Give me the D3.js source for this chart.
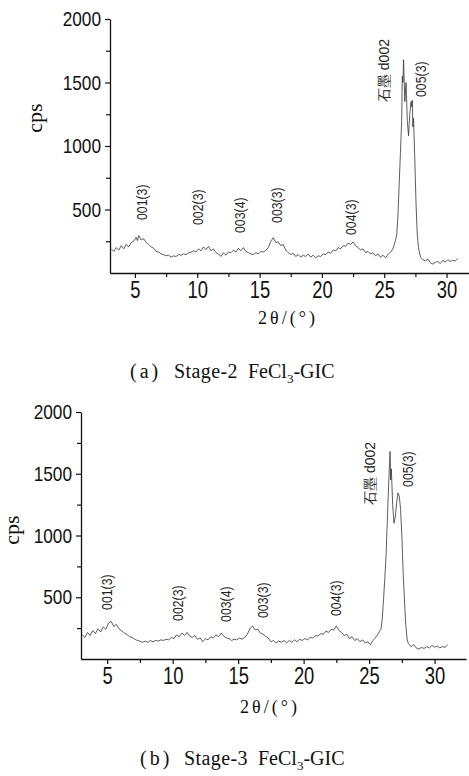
<!DOCTYPE html>
<html>
<head>
<meta charset="utf-8">
<script src="https://cdn.jsdelivr.net/npm/d3@7"></script>
<style>
  body { margin: 0; background: #fff; }
  svg { display: block; }
</style>
</head>
<body>
<script>
// 2theta (deg) vs counts
var stage2 = [
  [3.1,190],[3.3,170],[3.5,200],[3.7,180],[3.9,215],[4.1,190],[4.3,225],[4.5,205],[4.7,240],[4.9,250],
  [5.1,280],[5.2,255],[5.3,295],[5.5,260],[5.7,270],[5.9,240],[6.1,225],[6.3,205],[6.5,195],[6.7,170],
  [6.9,165],[7.1,150],[7.3,145],[7.5,135],[7.7,140],[7.9,125],[8.1,135],[8.3,130],[8.5,145],[8.7,140],
  [8.9,150],[9.1,145],[9.3,160],[9.5,165],[9.7,175],[9.9,165],[10.1,190],[10.3,175],[10.5,205],[10.7,185],
  [10.9,210],[11.1,175],[11.3,190],[11.5,160],[11.7,150],[11.9,130],[12.1,160],[12.3,140],[12.5,165],[12.7,160],
  [12.9,180],[13.1,165],[13.3,195],[13.5,175],[13.7,200],[13.9,170],[14.1,160],[14.3,150],[14.5,145],[14.7,160],
  [14.9,150],[15.1,170],[15.3,165],[15.5,180],[15.7,200],[15.9,250],[16.1,278],[16.3,240],[16.5,245],[16.7,215],
  [16.9,225],[17.1,180],[17.3,160],[17.5,145],[17.7,155],[17.9,130],[18.1,145],[18.3,125],[18.5,140],[18.7,130],
  [18.9,150],[19.1,125],[19.3,140],[19.5,120],[19.7,135],[19.9,130],[20.1,150],[20.3,145],[20.5,165],[20.7,155],
  [20.9,180],[21.1,175],[21.3,200],[21.5,190],[21.7,215],[21.9,210],[22.1,235],[22.3,225],[22.5,245],[22.7,215],
  [22.9,200],[23.1,180],[23.3,190],[23.5,160],[23.7,170],[23.9,150],[24.1,160],[24.3,135],[24.5,150],[24.7,125],
  [24.9,140],[25.1,120],[25.3,145],[25.5,165],[25.7,190],[25.8,225],[25.9,255],[26.0,300],[26.1,450],[26.2,700],
  [26.3,950],[26.4,1200],[26.45,1550],[26.5,1500],[26.55,1680],[26.65,1350],[26.75,1500],[26.85,1200],[26.95,1080],[27.05,1250],
  [27.15,1350],[27.2,1310],[27.25,1360],[27.3,1150],[27.35,1220],[27.45,900],[27.55,550],[27.65,300],[27.75,200],[27.85,150],
  [27.95,120],[28.1,105],[28.3,95],[28.5,110],[28.7,80],[28.9,70],[29.1,85],[29.3,90],[29.5,75],[29.7,100],
  [29.9,85],[30.1,105],[30.3,90],[30.5,100],[30.7,95],[30.9,115]
];
var stage3 = [
  [3.1,195],[3.3,175],[3.5,215],[3.7,190],[3.9,230],[4.1,205],[4.3,245],[4.5,220],[4.7,260],[4.9,240],
  [5.1,290],[5.3,305],[5.5,265],[5.7,280],[5.9,245],[6.1,230],[6.3,210],[6.5,200],[6.7,180],[6.9,175],
  [7.1,160],[7.3,150],[7.5,145],[7.7,135],[7.9,145],[8.1,135],[8.3,150],[8.5,140],[8.7,150],[8.9,145],
  [9.1,155],[9.3,150],[9.5,160],[9.7,155],[9.9,175],[10.1,165],[10.3,195],[10.5,180],[10.7,210],[10.9,190],
  [11.1,215],[11.3,185],[11.5,175],[11.7,190],[11.9,160],[12.1,170],[12.3,140],[12.5,165],[12.7,155],[12.9,180],
  [13.1,170],[13.3,195],[13.5,180],[13.7,210],[13.9,185],[14.1,170],[14.3,165],[14.5,150],[14.7,160],[14.9,155],
  [15.1,170],[15.3,160],[15.5,175],[15.7,200],[15.9,245],[16.1,268],[16.3,235],[16.5,240],[16.7,210],[16.9,200],
  [17.1,185],[17.3,170],[17.5,140],[17.7,150],[17.9,130],[18.1,145],[18.3,135],[18.5,150],[18.7,130],[18.9,150],
  [19.1,135],[19.3,155],[19.5,140],[19.7,160],[19.9,150],[20.1,165],[20.3,155],[20.5,175],[20.7,170],[20.9,190],
  [21.1,185],[21.3,205],[21.5,200],[21.7,225],[21.9,215],[22.1,240],[22.3,235],[22.5,268],[22.7,230],[22.9,215],
  [23.1,190],[23.3,200],[23.5,165],[23.7,180],[23.9,150],[24.1,165],[24.3,140],[24.5,155],[24.7,130],[24.9,140],
  [25.1,115],[25.3,150],[25.5,175],[25.7,205],[25.8,225],[25.9,240],[26.0,320],[26.1,480],[26.2,650],[26.3,850],
  [26.4,1150],[26.5,1430],[26.6,1680],[26.65,1450],[26.7,1540],[26.8,1250],[26.9,1100],[27.0,1150],[27.1,1260],[27.2,1345],
  [27.3,1320],[27.4,1220],[27.5,1000],[27.6,700],[27.7,480],[27.8,280],[27.9,160],[28.0,125],[28.2,100],[28.4,115],
  [28.6,90],[28.8,80],[29.0,95],[29.2,85],[29.4,100],[29.6,90],[29.8,110],[30.0,95],[30.2,105],[30.4,90],
  [30.6,100],[30.8,95],[31.0,115]
];

// peak labels: text, 2theta, cps at the foot of the label
var labelsA = [
  ["001(3)",5.54,417],["002(3)",10.05,378],["003(4)",13.4,315],["003(3)",16.36,394],
  ["004(3)",22.37,299],["石墨 d002",25.0,1346],["005(3)",27.97,1386]
];
var labelsB = [
  ["001(3)",5.0,397],["002(3)",10.43,308],["003(4)",14.1,300],["003(3)",16.9,332],
  ["004(3)",22.47,348],["石墨 d002",25.06,1247],["005(3)",27.99,1393]
];

var xMajor = [5,10,15,20,25,30];
var xMinor = [7.5,12.5,17.5,22.5,27.5];
var yMajor = [500,1000,1500,2000];
var yMinor = [250,750,1250,1750];

var svg = d3.select("body").append("svg").attr("width",469).attr("height",776);

var sans = "'Liberation Sans',Arial,sans-serif";
var serif = "'Liberation Serif','Times New Roman',serif";

// squeeze text horizontally (the original uses a narrow face)
function condense(sel, k) {
  sel.each(function(){
    var w = this.getComputedTextLength();
    d3.select(this).attr("textLength", w * k).attr("lengthAdjust","spacingAndGlyphs");
  });
}

function panel(data, labels, p) {
  var x = d3.scaleLinear().domain(p.xd).range([p.left, p.right]);
  var y = d3.scaleLinear().domain([0,2000]).range([p.bottom, p.top]);

  var g = svg.append("g");

  // axes
  var xa = g.append("g").attr("transform","translate(0," + p.bottom + ")")
      .call(d3.axisBottom(x).tickValues(xMajor).tickFormat(d3.format("d")).tickSize(5).tickPadding(4).tickSizeOuter(0));
  xa.selectAll("text").attr("font-family",sans).attr("font-size","23px").attr("fill","#111").call(condense, 0.8);
  g.append("g").attr("transform","translate(0," + p.bottom + ")")
      .call(d3.axisBottom(x).tickValues(xMinor).tickSize(4).tickFormat("").tickSizeOuter(0))
      .select(".domain").remove();

  var ya = g.append("g").attr("transform","translate(" + p.left + ",0)")
      .call(d3.axisLeft(y).tickValues(yMajor).tickFormat(d3.format("d")).tickSize(5).tickPadding(4).tickSizeOuter(0));
  ya.selectAll("text").attr("font-family",sans).attr("font-size","21px").attr("fill","#111").call(condense, 0.82);
  g.append("g").attr("transform","translate(" + p.left + ",0)")
      .call(d3.axisLeft(y).tickValues(yMinor).tickSize(4).tickFormat("").tickSizeOuter(0))
      .select(".domain").remove();

  g.selectAll(".domain").attr("stroke","#111").attr("stroke-width",1.3);
  g.selectAll(".tick line").attr("stroke","#111").attr("stroke-width",1.2);

  // pattern
  var line = d3.line().x(function(d){ return x(d[0]); }).y(function(d){ return y(d[1]); });
  g.append("path").datum(data)
      .attr("d", line)
      .attr("fill","none")
      .attr("stroke","#333")
      .attr("stroke-width",0.8);

  // peak labels
  var pk = g.selectAll("text.peak")
    .data(labels)
    .enter().append("text")
      .attr("class","peak")
      .attr("transform", function(d){ return "translate(" + x(d[1]) + "," + y(d[2]) + ") rotate(-90)"; })
      .attr("dominant-baseline","central")
      .attr("font-family", sans)
      .attr("font-size","14px")
      .attr("fill","#222")
      .text(function(d){ return d[0]; });
  pk.filter(function(d){ return d[0].indexOf("d002") < 0; }).call(condense, 0.88);

  // y title
  g.append("text")
      .attr("transform","translate(" + p.ytx + "," + p.yty + ") rotate(-90)")
      .attr("text-anchor","middle")
      .attr("font-family", serif)
      .attr("font-size","22px")
      .attr("fill","#111")
      .text("cps");

  // x title
  g.append("text")
      .attr("x", p.xtx).attr("y", p.xty)
      .attr("text-anchor","middle")
      .attr("font-family", serif)
      .attr("font-size","18px")
      .attr("letter-spacing","3px")
      .attr("fill","#111")
      .text("2θ/(°)");

  // caption
  var cap = g.append("text")
      .attr("y", p.capy)
      .attr("font-family", serif)
      .attr("font-size","20px")
      .attr("fill","#111");
  cap.append("tspan").attr("x", p.capx).attr("letter-spacing","3px").text("(" + p.tag + ")");
  cap.append("tspan").attr("x", p.capx + 44).attr("letter-spacing","0.4px").text(p.stage);
  cap.append("tspan").attr("x", p.capx + 118).text("FeCl");
  cap.append("tspan").attr("font-size","13px").attr("dy","5").text("3");
  cap.append("tspan").attr("dy","-5").text("-GIC");
}

panel(stage2, labelsA, {
  xd:[3,31.8], left:110, right:469, top:19, bottom:273,
  ytx:42, yty:118, xtx:288, xty:324, capy:378, capx:130,
  tag:"a", stage:"Stage-2"
});
panel(stage3, labelsB, {
  xd:[3,32.4], left:81, right:466, top:412, bottom:659,
  ytx:19, yty:530, xtx:270, xty:713, capy:765, capx:140,
  tag:"b", stage:"Stage-3"
});
</script>
</body>
</html>
